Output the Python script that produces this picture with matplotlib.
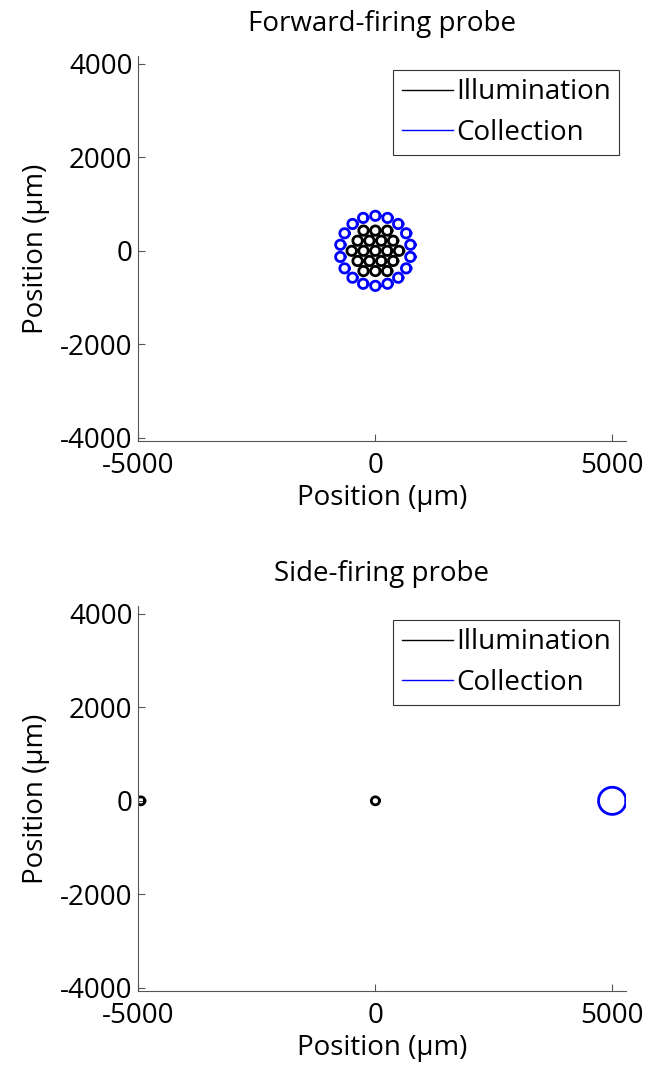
import numpy as np
import matplotlib.pyplot as plt
from matplotlib.lines import Line2D

plt.rcParams['font.family'] = ['Open Sans', 'DejaVu Sans']
plt.rcParams['axes.unicode_minus'] = False

# forward-firing probe: fibre centres (um) and radius
fwd_illum_x = [-250, 0, 250,
               -375, -125, 125, 375,
               -500, -250, 0, 250, 500,
               -375, -125, 125, 375,
               -250, 0, 250]
fwd_illum_y = [433, 433, 433,
               217, 217, 217, 217,
               0, 0, 0, 0, 0,
               -217, -217, -217, -217,
               -433, -433, -433]
fwd_coll_x = [0, 257, 482, 650, 739, 739, 650, 482, 257,
              0, -257, -482, -650, -739, -739, -650, -482, -257]
fwd_coll_y = [750, 705, 575, 375, 130, -130, -375, -575, -705,
              -750, -705, -575, -375, -130, 130, 375, 575, 705]
fwd_radius = 100

# side-firing probe
side_illum_x = [-4950, 0]
side_illum_y = [0, 0]
side_illum_r = [85, 85]
side_coll_x = [5000]
side_coll_y = [0]
side_coll_r = [290]

W, H = 648, 1070
fig = plt.figure(figsize=(W / 100, H / 100), dpi=100)
t = np.linspace(0, 2 * np.pi, 80)
FS = 20


def circle(ax, x, y, r, color):
    ax.plot(x + r * np.cos(t), y + r * np.sin(t), color=color, lw=2)


def style(ax, title):
    ax.set_xlim(-5010, 5290)
    ax.set_ylim(-4070, 4170)
    ax.set_xticks([-5000, 0, 5000])
    ax.set_yticks([-4000, -2000, 0, 2000, 4000])
    for s in ['top', 'right']:
        ax.spines[s].set_visible(False)
    for s in ['left', 'bottom']:
        ax.spines[s].set_color('#555555')
    ax.tick_params(direction='in', length=5, color='#555555', labelsize=FS, pad=4)
    ax.tick_params(axis='x', pad=8)
    ax.set_xlabel('Position (µm)', fontsize=FS, labelpad=3)
    ax.set_ylabel('Position (µm)', fontsize=FS, labelpad=7)
    ax.set_title(title, fontsize=FS, pad=18)
    handles = [Line2D([], [], color='black', lw=1),
               Line2D([], [], color='blue', lw=1)]
    leg = ax.legend(handles, ['Illumination', 'Collection'], loc='upper right',
                    bbox_to_anchor=(1.0, 1 - 7 / 385),
                    fontsize=FS, fancybox=False, framealpha=1, edgecolor='#333333',
                    handlelength=1.85, handletextpad=0.1, borderpad=0.3,
                    labelspacing=0.45, borderaxespad=0.25)
    leg.get_frame().set_linewidth(0.8)


ax1 = fig.add_axes([138 / W, 1 - 441 / H, 488 / W, 385 / H])
for x, y in zip(fwd_illum_x, fwd_illum_y):
    circle(ax1, x, y, fwd_radius, 'black')
for x, y in zip(fwd_coll_x, fwd_coll_y):
    circle(ax1, x, y, fwd_radius, 'blue')
style(ax1, 'Forward-firing probe')

ax2 = fig.add_axes([138 / W, 1 - 991 / H, 488 / W, 385 / H])
for x, y, r in zip(side_illum_x, side_illum_y, side_illum_r):
    circle(ax2, x, y, r, 'black')
for x, y, r in zip(side_coll_x, side_coll_y, side_coll_r):
    circle(ax2, x, y, r, 'blue')
style(ax2, 'Side-firing probe')

fig.savefig('out.png', dpi=100)
